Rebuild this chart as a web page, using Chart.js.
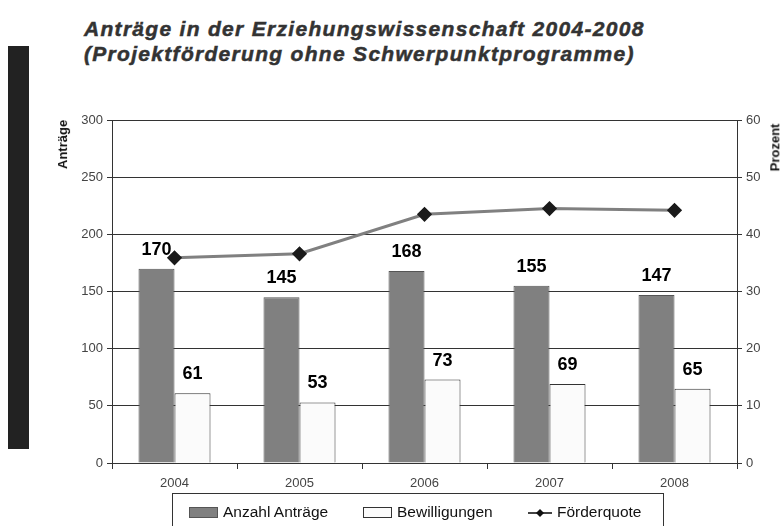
<!DOCTYPE html>
<html>
<head>
<meta charset="utf-8">
<script src="https://cdn.jsdelivr.net/npm/chart.js@4.4.1/dist/chart.umd.min.js"></script>
<style>
  body { margin: 0; background: #fff; font-family: "Liberation Sans", Arial, sans-serif; }
  #wrap { position: relative; width: 783px; height: 526px; overflow: hidden; }
  #chart { position: absolute; left: 0; top: 0; }
  #bar { position: absolute; left: 8px; top: 46px; width: 21px; height: 403px; background: #222; }
  #title { position: absolute; left: 84px; top: 16px; font-size: 21px; font-weight: bold; font-style: italic; color: #333; line-height: 25px; letter-spacing: 1.3px; -webkit-text-stroke: 0.5px #333; }
  .ytitle { position: absolute; font-size: 13px; font-weight: bold; color: #111; transform: rotate(-90deg); white-space: nowrap; }
  #legend { position: absolute; left: 172px; top: 493px; width: 492px; height: 40px; border: 1px solid #333; box-sizing: border-box; font-size: 15.5px; color: #111; }
  .li { position: absolute; top: 9px; white-space: nowrap; }
  .sw { display: inline-block; vertical-align: -1px; margin-right: 5px; }
</style>
</head>
<body>
<div id="wrap">
  <div id="bar"></div>
  <div id="title">Anträge in der Erziehungswissenschaft 2004-2008<br>(Projektförderung ohne Schwerpunktprogramme)</div>
  <canvas id="chart" width="783" height="526"></canvas>
  <div class="ytitle" style="left:38px; top:137px;">Anträge</div>
  <div class="ytitle" style="left:751px; top:140px;">Prozent</div>
  <div id="legend">
    <span class="li" style="left:16px;"><span class="sw" style="width:27px;height:9px;background:#808080;border:1px solid #555;"></span>Anzahl Anträge</span>
    <span class="li" style="left:190px;"><span class="sw" style="width:27px;height:9px;background:#fbfbfb;border:1px solid #333;"></span>Bewilligungen</span>
    <span class="li" style="left:355px;"><span class="sw" style="width:24px;height:10px;position:relative;"><svg width="24" height="10" style="position:absolute;left:0;top:0"><line x1="0" y1="5" x2="24" y2="5" stroke="#444" stroke-width="2"/><polygon points="12,1 16,5 12,9 8,5" fill="#111"/></svg></span>Förderquote</span>
  </div>
</div>
<script>
const years = ['2004', '2005', '2006', '2007', '2008'];
const antraege = [170, 145, 168, 155, 147];
const bewilligungen = [61, 53, 73, 69, 65];
const foerderquote = [35.9, 36.6, 43.5, 44.5, 44.2];

// value labels above the bars
const barLabels = {
  id: 'barLabels',
  afterDatasetsDraw(chart) {
    const ctx = chart.ctx;
    ctx.save();
    ctx.font = 'bold 18px "Liberation Sans", Arial, sans-serif';
    ctx.fillStyle = '#000';
    ctx.textAlign = 'center';
    ctx.textBaseline = 'bottom';
    chart.data.datasets.forEach((ds, i) => {
      if (ds.type !== 'bar') return;
      chart.getDatasetMeta(i).data.forEach((el, j) => {
        ctx.fillText(ds.data[j], el.x, el.y - 10);
      });
    });
    ctx.restore();
  }
};

const tickFont = { family: '"Liberation Sans", Arial, sans-serif', size: 13 };

new Chart(document.getElementById('chart'), {
  data: {
    labels: years,
    datasets: [
      {
        type: 'line', label: 'Förderquote', data: foerderquote, yAxisID: 'y1', order: 0,
        borderColor: '#808080', borderWidth: 3, tension: 0,
        pointStyle: 'rectRot', pointRadius: 5.5, pointBackgroundColor: '#1a1a1a', pointBorderColor: '#1a1a1a'
      },
      {
        type: 'bar', label: 'Anzahl Anträge', data: antraege, yAxisID: 'y', order: 1,
        backgroundColor: '#808080', borderColor: '#555', borderWidth: 1,
        categoryPercentage: 0.576, barPercentage: 1
      },
      {
        type: 'bar', label: 'Bewilligungen', data: bewilligungen, yAxisID: 'y', order: 1,
        backgroundColor: '#fbfbfb', borderColor: '#333', borderWidth: 1,
        categoryPercentage: 0.576, barPercentage: 1
      }
    ]
  },
  options: {
    responsive: false,
    animation: false,
    layout: { padding: { top: 120 } },
    plugins: { legend: { display: false }, tooltip: { enabled: false } },
    scales: {
      x: {
        grid: { offset: true, drawOnChartArea: false, tickLength: 6, color: '#333' },
        border: { color: '#333' },
        ticks: { color: '#444', font: tickFont, padding: 7 },
        afterFit(s) { s.height = 63; }
      },
      y: {
        position: 'left', min: 0, max: 300,
        ticks: { stepSize: 50, color: '#444', font: tickFont, padding: 4 },
        grid: { color: '#333', tickLength: 5 },
        border: { color: '#333' },
        afterFit(s) { s.width = 112; }
      },
      y1: {
        position: 'right', min: 0, max: 60,
        ticks: { stepSize: 10, color: '#444', font: tickFont, padding: 4 },
        grid: { drawOnChartArea: false, color: '#333', tickLength: 5 },
        border: { color: '#333' },
        afterFit(s) { s.width = 46; }
      }
    }
  },
  plugins: [barLabels]
});
</script>
</body>
</html>
